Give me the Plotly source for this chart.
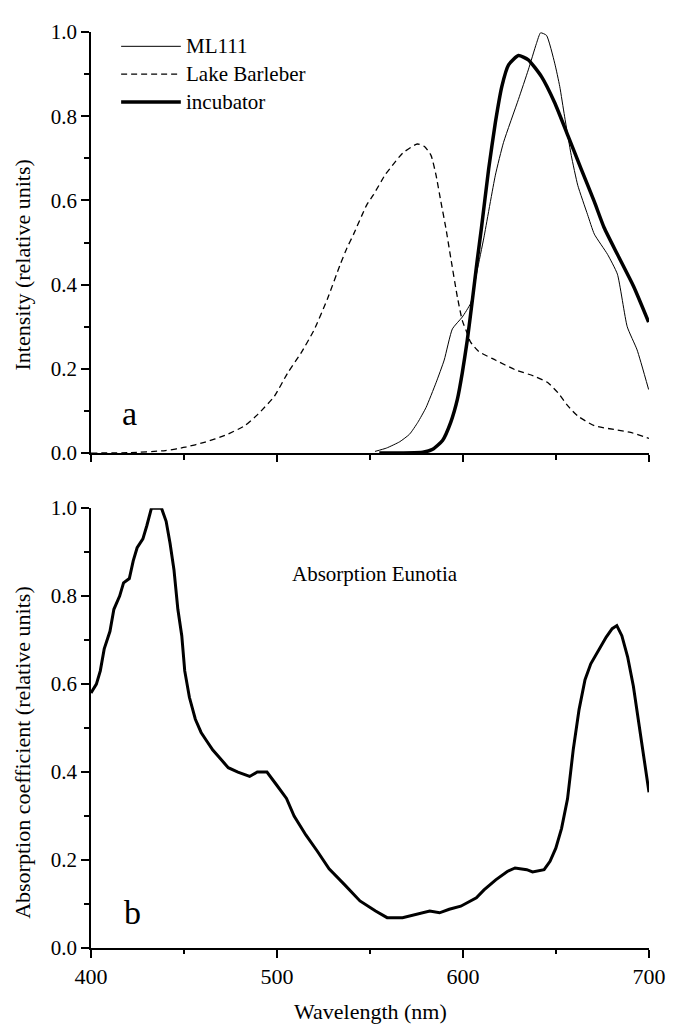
import plotly.graph_objects as go

# ---------------- data ----------------
# Panel a: emission / intensity spectra
ml111_wl = [552.7, 558.9, 566, 571.3, 575.7, 580.1, 585.5, 589.9, 594.3, 599.6, 604.1, 607.6,
            611.2, 617.4, 621.8, 629.8, 635.1, 639.5, 641.7, 644.9, 649.3, 652, 654.6, 658.2,
            661.7, 667, 670.6, 677.7, 683, 688.3, 693.6, 699.8]
ml111_val = [0.004, 0.012, 0.027, 0.045, 0.073, 0.108, 0.167, 0.221, 0.295, 0.323, 0.356, 0.433,
             0.511, 0.660, 0.738, 0.840, 0.910, 0.973, 0.998, 0.992, 0.926, 0.871, 0.800, 0.707,
             0.636, 0.566, 0.520, 0.472, 0.425, 0.300, 0.245, 0.151]

barleber_wl = [400, 420, 440, 450.7, 461.4, 472, 482.7, 489.7, 498.6, 505.7, 512.8, 519.9, 527,
               534, 537.6, 541.2, 548.2, 551.8, 558, 560.6, 567.7, 575.4, 579.3, 582.8, 585.5,
               588.1, 590.8, 593.4, 597, 599.6, 602.3, 604, 608.5, 617.4, 628, 638.7, 645.7,
               651.1, 656.4, 661.7, 670.6, 681.2, 690.1, 698, 700]
barleber_val = [0.0, 0.001, 0.006, 0.014, 0.026, 0.042, 0.065, 0.092, 0.135, 0.190, 0.237, 0.292,
                0.365, 0.448, 0.487, 0.520, 0.589, 0.613, 0.660, 0.675, 0.713, 0.734, 0.728,
                0.707, 0.660, 0.597, 0.534, 0.464, 0.370, 0.315, 0.284, 0.264, 0.241, 0.221,
                0.198, 0.182, 0.167, 0.143, 0.112, 0.088, 0.065, 0.056, 0.049, 0.038, 0.035]

incubator_wl = [555, 578.4, 583.7, 589, 593.4, 597, 599.6, 602.3, 605, 607.6, 609.9, 613.8,
                617.4, 620.9, 624.5, 629.8, 635.1, 642.2, 649.3, 656.4, 663.5, 670.6, 675.9,
                683, 691.8, 699.8]
incubator_val = [0.0, 0.002, 0.009, 0.030, 0.073, 0.128, 0.190, 0.268, 0.362, 0.456, 0.534,
                 0.675, 0.785, 0.871, 0.922, 0.944, 0.934, 0.894, 0.832, 0.754, 0.675, 0.597,
                 0.535, 0.472, 0.395, 0.311]

# Panel b: absorption spectrum of Eunotia
absorb_wl = [400, 402.9, 405, 407.1, 410.2, 412.3, 415.4, 417.5, 420.6, 422.7, 424.8, 427.9,
             430, 432.5, 437.9, 440.4, 442.5, 444.6, 446.7, 448.8, 450.4, 452.9, 456.1, 459.2,
             462.3, 465.5, 469.6, 473.8, 479, 485.3, 489.4, 494.6, 499.9, 505.1, 509.2, 515.5,
             521.7, 528, 536.3, 544.6, 553, 559.2, 567.5, 575.9, 582.1, 587.4, 592.6, 598.8,
             607.2, 611.3, 617.6, 623.8, 628, 634.3, 637.4, 643.6, 646.8, 649.9, 653, 656.2,
             659.3, 662.4, 665.6, 668.7, 672.9, 677, 680.2, 682.7, 685.4, 688.5, 691.6, 694.8,
             697.9, 700]
absorb_val = [0.58, 0.60, 0.63, 0.68, 0.72, 0.77, 0.80, 0.83, 0.84, 0.88, 0.91, 0.93,
              0.96, 1.0, 1.0, 0.97, 0.92, 0.86, 0.77, 0.71, 0.63, 0.57, 0.52, 0.49,
              0.47, 0.45, 0.43, 0.41, 0.40, 0.39, 0.40, 0.40, 0.37, 0.34, 0.30, 0.257,
              0.22, 0.18, 0.144, 0.107, 0.084, 0.069, 0.069, 0.077, 0.084, 0.080, 0.088, 0.095,
              0.114, 0.132, 0.155, 0.174, 0.182, 0.178, 0.173, 0.178, 0.197, 0.227, 0.272, 0.339,
              0.452, 0.542, 0.610, 0.646, 0.677, 0.707, 0.726, 0.733, 0.710, 0.662, 0.595, 0.505,
              0.414, 0.354]

series_names = ["ML111", "Lake Barleber", "incubator"]
x_ticks = [400, 500, 600, 700]
y_ticks = [0.0, 0.2, 0.4, 0.6, 0.8, 1.0]

# ---------------- figure ----------------
FONT = "Liberation Serif, DejaVu Serif, Noto Serif, serif"
fig = go.Figure()

fig.add_trace(go.Scatter(x=ml111_wl, y=ml111_val, mode="lines", name=series_names[0],
                         line=dict(color="black", width=1.0, shape="spline", smoothing=0.5),
                         xaxis="x", yaxis="y"))
fig.add_trace(go.Scatter(x=barleber_wl, y=barleber_val, mode="lines", name=series_names[1],
                         line=dict(color="black", width=1.3, dash="6px,4px", shape="spline",
                                   smoothing=0.5),
                         xaxis="x", yaxis="y"))
fig.add_trace(go.Scatter(x=incubator_wl, y=incubator_val, mode="lines", name=series_names[2],
                         line=dict(color="black", width=3.5, shape="spline", smoothing=0.5),
                         xaxis="x", yaxis="y"))
fig.add_trace(go.Scatter(x=absorb_wl, y=absorb_val, mode="lines", name="Absorption Eunotia",
                         line=dict(color="black", width=3.0),
                         xaxis="x2", yaxis="y2", showlegend=False))

# legend key (drawn as layout decoration in the top panel)
legend_y = [0.966, 0.900, 0.834]
legend_dash = ["solid", "dash", "solid"]
legend_w = [1.0, 1.3, 3.5]
for name, yy, dsh, w in zip(series_names, legend_y, legend_dash, legend_w):
    fig.add_shape(type="line", xref="x domain", yref="y domain", x0=0.054, x1=0.161,
                  y0=yy, y1=yy, line=dict(color="black", width=w,
                                           dash="6px,4px" if dsh == "dash" else "solid"))
    fig.add_annotation(text=name, xref="x domain", yref="y domain", x=0.167, y=yy,
                       xanchor="left", yanchor="middle", showarrow=False,
                       font=dict(family=FONT, size=21, color="black"))

axis_common = dict(showline=True, linecolor="black", linewidth=1.5, ticks="outside",
                   tickcolor="black", tickwidth=1.5, showgrid=False, zeroline=False,
                   mirror=False)

# the page body adds an 8px margin, so the figure is 8px smaller and margins shifted
fig.update_layout(
    width=670, height=1018,
    margin=dict(l=83, r=22, t=14, b=78),
    paper_bgcolor="white", plot_bgcolor="white",
    showlegend=False,
    font=dict(family=FONT, size=21, color="black"),
    xaxis=dict(domain=[0, 1], anchor="y", range=[400, 700], tickvals=x_ticks,
               showticklabels=False, ticklen=7,
               minor=dict(dtick=50, ticklen=5, tickwidth=1.5, tickcolor="black", ticks="outside"),
               **axis_common),
    yaxis=dict(domain=[0.5403, 1.0], anchor="x", range=[0, 1.0], tickvals=y_ticks,
               tickformat=".1f", ticklen=8,
               minor=dict(dtick=0.1, ticklen=5, tickwidth=1.5, tickcolor="black", ticks="outside"),
               tickfont=dict(family=FONT, size=21), **axis_common),
    xaxis2=dict(domain=[0, 1], anchor="y2", range=[400, 700], tickvals=x_ticks,
                ticklen=8, tickfont=dict(family=FONT, size=22),
                minor=dict(dtick=50, ticklen=4, tickwidth=1.5, tickcolor="black", ticks="outside"),
                **axis_common),
    yaxis2=dict(domain=[0, 0.4802], anchor="x2", range=[0, 1.0], tickvals=y_ticks,
                tickformat=".1f", ticklen=8,
                minor=dict(dtick=0.1, ticklen=5, tickwidth=1.5, tickcolor="black", ticks="outside"),
                tickfont=dict(family=FONT, size=21), **axis_common),
)

# axis titles and panel labels
fig.add_annotation(text="Intensity (relative units)", xref="paper", yref="paper",
                   x=-0.1221, y=0.746, textangle=-90, showarrow=False,
                   xanchor="center", yanchor="middle", borderpad=0,
                   font=dict(family=FONT, size=22, color="black"))
fig.add_annotation(text="Absorption coefficient (relative units)", xref="paper", yref="paper",
                   x=-0.1221, y=0.214, textangle=-90, showarrow=False,
                   xanchor="center", yanchor="middle", borderpad=0,
                   font=dict(family=FONT, size=22, color="black"))
fig.add_annotation(text="Wavelength (nm)", xref="paper", yref="paper",
                   x=0.5, y=-0.069, showarrow=False, xanchor="center", yanchor="middle",
                   font=dict(family=FONT, size=22, color="black"))
fig.add_annotation(text="a", xref="x domain", yref="y domain", x=0.0686, y=0.093,
                   showarrow=False, xanchor="center", yanchor="middle",
                   font=dict(family=FONT, size=34, color="black"))
fig.add_annotation(text="b", xref="x2 domain", yref="y2 domain", x=0.074, y=0.081,
                   showarrow=False, xanchor="center", yanchor="middle",
                   font=dict(family=FONT, size=34, color="black"))
fig.add_annotation(text="Absorption Eunotia", xref="x2 domain", yref="y2 domain",
                   x=0.509, y=0.85, showarrow=False, xanchor="center", yanchor="middle",
                   font=dict(family=FONT, size=21, color="black"))

fig.write_html("out.html")
